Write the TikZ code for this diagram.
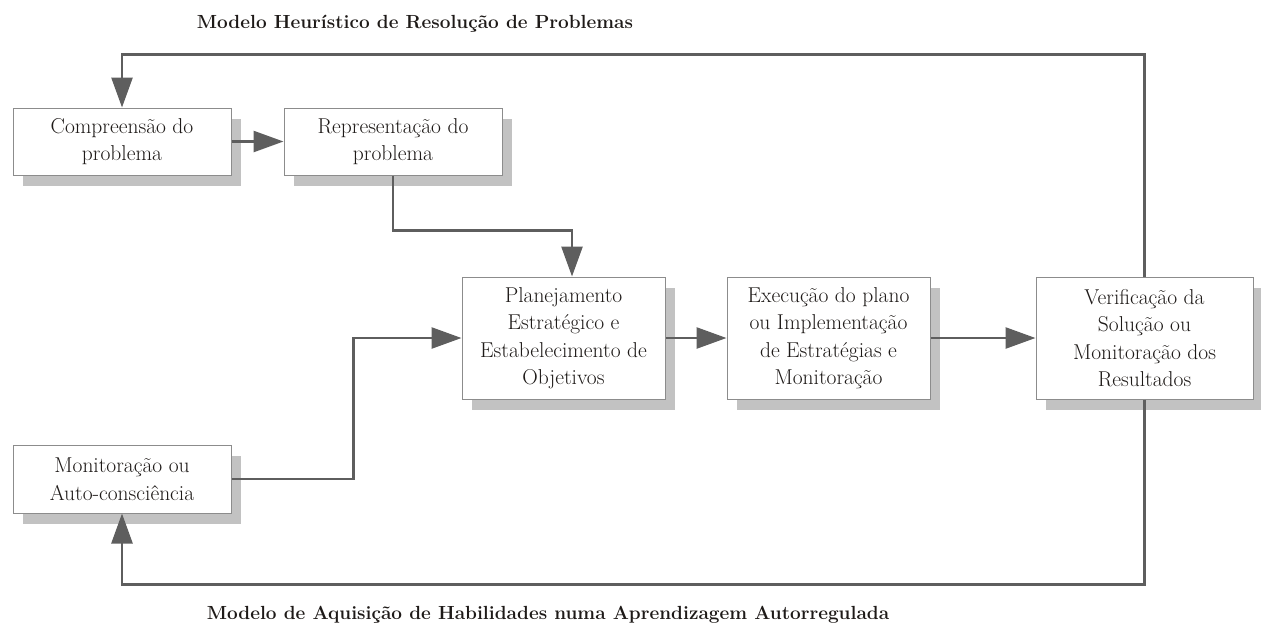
\documentclass[tikz,border=0pt]{standalone}
\usetikzlibrary{arrows.meta,shadows,calc}
\definecolor{txtcol}{HTML}{1E1A18}
\definecolor{linecol}{HTML}{5E5E5E}
\definecolor{boxline}{HTML}{8C8C8C}
\definecolor{shadowcol}{HTML}{C2C2C2}
\tikzset{
  stepbox/.style={draw=boxline, line width=1pt, fill=white, inner sep=0pt,
    align=center, text=txtcol, font=\fontsize{21.5}{27.5}\selectfont,
    drop shadow={shadow xshift=10pt, shadow yshift=-11pt, fill=shadowcol, opacity=1}},
  conn/.style={draw=linecol, line width=2.6pt, -{Triangle[length=30pt,width=21pt]}},
  titletext/.style={text=txtcol, font=\fontsize{19}{23}\selectfont\bfseries, inner sep=0pt, anchor=base}
}
\begin{document}
\begin{tikzpicture}[x=1pt, y=-1pt]
\useasboundingbox (0,0) rectangle (1261,625);
\node[titletext] (t1) at (415,28) {Modelo Heurístico de Resolução de Problemas};
\node[titletext] (t2) at (548,619) {Modelo de Aquisição de Habilidades numa Aprendizagem Autorregulada};

\node[stepbox, minimum width=218pt, minimum height=67pt] (comp) at (122,141.5) {Compreensão do\\problema};
\node[stepbox, minimum width=218pt, minimum height=67pt] (repr) at (393,141.5) {Representação do\\problema};
\node[stepbox, minimum width=203pt, minimum height=122pt] (plan) at (563.5,338) {Planejamento\\Estratégico e\\Estabelecimento de\\Objetivos};
\node[stepbox, minimum width=203pt, minimum height=122pt] (exec) at (828.5,338) {Execução do plano\\ou Implementação\\de Estratégias e\\Monitoração};
\node[stepbox, minimum width=217pt, minimum height=122pt] (verif) at (1144.5,338) {Verificação da\\Solução ou\\Monitoração dos\\Resultados};
\node[stepbox, minimum width=218pt, minimum height=68pt] (mon) at (122,479) {Monitoração ou\\Auto-consciência};

\coordinate (planin) at ($(plan.north)+(8.5,0)$);
\draw[conn] (comp.east) -- (repr.west);
\draw[conn] (repr.south) |- ($(planin)+(0,-46)$) -- (planin);
\draw[conn] (plan.east) -- (exec.west);
\draw[conn] (exec.east) -- (verif.west);
\draw[conn] (verif.north) -- ++(0,-222) -| (comp.north);
\draw[conn] (verif.south) -- ++(0,185) -| (mon.south);
\draw[conn] (mon.east) -- ++(122,0) |- (plan.west);
\end{tikzpicture}
\end{document}
